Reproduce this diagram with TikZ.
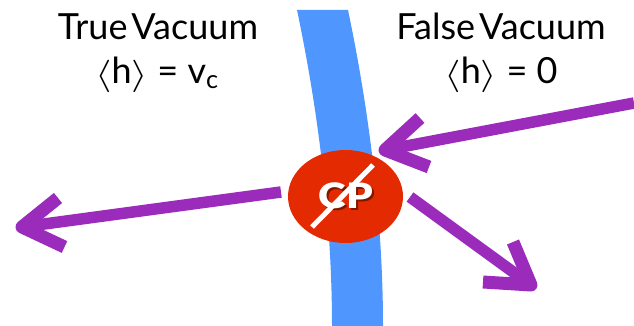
\documentclass[tikz,border=0pt]{standalone}
\usepackage{fontspec}
\usepackage{graphicx}
\setmainfont{Lato}
\newfontfamily\cpfont{Lato Black}
\usetikzlibrary{shapes.geometric}
\definecolor{bandblue}{HTML}{5096FF}
\definecolor{cpred}{HTML}{E32A00}
\definecolor{arrowpurple}{HTML}{9A2BBB}
\newcommand{\lbr}{\raisebox{-0.5pt}{\scalebox{1.7}[1.3]{$\langle$}}}
\newcommand{\rbr}{\raisebox{-0.5pt}{\scalebox{1.7}[1.3]{$\rangle$}}}
\tikzset{
  label text/.style={font=\fontsize{36}{40}\selectfont, text=black, inner sep=0pt, anchor=base},
  arrow shaft/.style={draw=arrowpurple, line width=11.5pt},
  arrow barbs/.style={draw=arrowpurple, line width=13pt, line join=round},
  cp disc/.style={ellipse, fill=cpred, minimum width=115pt, minimum height=93pt, inner sep=0pt},
}
\begin{document}
\begin{tikzpicture}[x=1pt,y=-1pt]
\useasboundingbox (0,0) rectangle (634,326);
\fill[bandblue] (297,10) .. controls (318,110) and (332,220) .. (332,326)
  -- (383,326) .. controls (383,220) and (369,110) .. (348,10) -- cycle;
\node[cp disc] (cp) at (345.5,196.5) {};
% incoming arrow
\coordinate (inA) at (634,103);
\coordinate (inB) at (385,150);
\coordinate (inU) at (420,118);
\coordinate (inL) at (429,167);
\draw[arrow shaft] (inA) -- (inB);
\draw[arrow barbs] (inU) -- (inB) -- (inL);
% left arrow
\coordinate (leftA) at (281,192);
\coordinate (leftB) at (22,227);
\coordinate (leftU) at (58,198);
\coordinate (leftL) at (64.5,247);
\draw[arrow shaft] (leftA) -- (leftB);
\draw[arrow barbs] (leftU) -- (leftB) -- (leftL);
% right arrow
\coordinate (rightA) at (410,197);
\coordinate (rightB) at (531,285);
\coordinate (rightU) at (513,242);
\coordinate (rightL) at (483,282);
\draw[arrow shaft] (rightA) -- (rightB);
\draw[arrow barbs] (rightU) -- (rightB) -- (rightL);
\node[label text] (trueV) at (158,40) {True\kern-2pt\,Vacuum};
\node[label text] (trueH) at (157,84) {\lbr h\rbr{} = v\textsubscript{c}};
\node[label text] (falseV) at (501,40) {False\kern-2pt\,Vacuum};
\node[label text] (falseH) at (501,84) {\lbr h\rbr{} = 0};
\node[font=\cpfont\fontsize{35}{36}\selectfont, inner sep=0pt] (cptext) at (346,197)
  {\scalebox{1.2}[1]{\makebox[0pt][l]{\hspace{1.5pt}\raisebox{-2pt}{\textcolor{black!45!cpred}{CP}}}\textcolor{white}{CP}}};
\draw[white, line width=5pt] (312,227) -- (373,165);
\end{tikzpicture}
\end{document}
